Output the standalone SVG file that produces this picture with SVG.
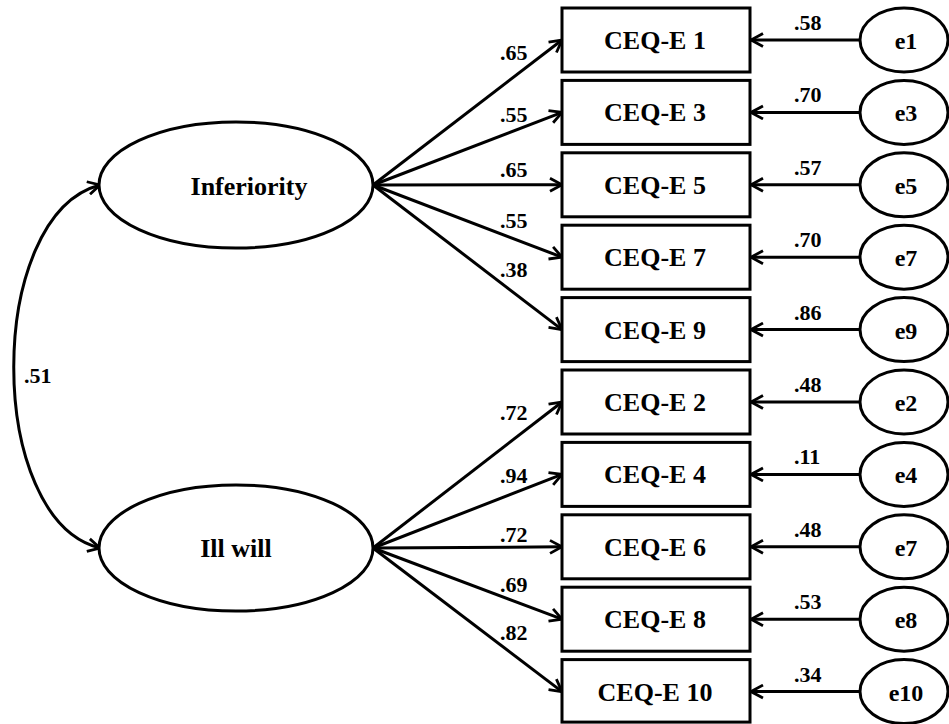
<svg xmlns="http://www.w3.org/2000/svg" width="949" height="724" viewBox="0 0 949 724">
<style>
.n{fill:#fff;stroke:#000;stroke-width:3}
.c{fill:none;stroke:#000;stroke-width:3}
text{font-family:"Liberation Serif","Times New Roman",serif;font-weight:bold;fill:#000}
.lat{font-size:26px;text-anchor:middle}
.obs{font-size:26px;text-anchor:middle}
.err{font-size:24px;text-anchor:middle}
.co{font-size:22px}
</style>
<defs>
<marker id="ah" viewBox="0 0 16 16" refX="15" refY="8" markerWidth="16" markerHeight="16" markerUnits="userSpaceOnUse" orient="auto-start-reverse">
<path d="M3,1.5 L15,8 L3,14.5" fill="none" stroke="#000" stroke-width="2.8"/>
</marker>
</defs>
<rect width="949" height="724" fill="#fff"/>
<g id="connectors">
<path class="c" d="M100,185 C-15,215 -15,520 100,548" marker-start="url(#ah)" marker-end="url(#ah)"/>
<line class="c" x1="373" y1="185" x2="562" y2="40" marker-end="url(#ah)"/>
<line class="c" x1="373" y1="185" x2="562" y2="112.4" marker-end="url(#ah)"/>
<line class="c" x1="373" y1="185" x2="562" y2="184.8" marker-end="url(#ah)"/>
<line class="c" x1="373" y1="185" x2="562" y2="257.2" marker-end="url(#ah)"/>
<line class="c" x1="373" y1="185" x2="562" y2="329.6" marker-end="url(#ah)"/>
<line class="c" x1="373" y1="548" x2="562" y2="402" marker-end="url(#ah)"/>
<line class="c" x1="373" y1="548" x2="562" y2="474.4" marker-end="url(#ah)"/>
<line class="c" x1="373" y1="548" x2="562" y2="546.8" marker-end="url(#ah)"/>
<line class="c" x1="373" y1="548" x2="562" y2="619.2" marker-end="url(#ah)"/>
<line class="c" x1="373" y1="548" x2="562" y2="691.6" marker-end="url(#ah)"/>
<line class="c" x1="860" y1="40" x2="751" y2="40" marker-end="url(#ah)"/>
<line class="c" x1="860" y1="112.4" x2="751" y2="112.4" marker-end="url(#ah)"/>
<line class="c" x1="860" y1="184.8" x2="751" y2="184.8" marker-end="url(#ah)"/>
<line class="c" x1="860" y1="257.2" x2="751" y2="257.2" marker-end="url(#ah)"/>
<line class="c" x1="860" y1="329.6" x2="751" y2="329.6" marker-end="url(#ah)"/>
<line class="c" x1="860" y1="402" x2="751" y2="402" marker-end="url(#ah)"/>
<line class="c" x1="860" y1="474.4" x2="751" y2="474.4" marker-end="url(#ah)"/>
<line class="c" x1="860" y1="546.8" x2="751" y2="546.8" marker-end="url(#ah)"/>
<line class="c" x1="860" y1="619.2" x2="751" y2="619.2" marker-end="url(#ah)"/>
<line class="c" x1="860" y1="691.6" x2="751" y2="691.6" marker-end="url(#ah)"/>
<text class="co" x="24" y="383">.51</text>
<text class="co" x="500" y="60">.65</text>
<text class="co" x="500" y="122">.55</text>
<text class="co" x="500" y="177">.65</text>
<text class="co" x="500" y="228">.55</text>
<text class="co" x="500" y="277">.38</text>
<text class="co" x="500" y="420">.72</text>
<text class="co" x="500" y="483">.94</text>
<text class="co" x="500" y="542">.72</text>
<text class="co" x="500" y="592">.69</text>
<text class="co" x="500" y="640">.82</text>
<text class="co" x="794" y="30">.58</text>
<text class="co" x="794" y="102.4">.70</text>
<text class="co" x="794" y="174.8">.57</text>
<text class="co" x="794" y="247.2">.70</text>
<text class="co" x="794" y="319.6">.86</text>
<text class="co" x="794" y="392">.48</text>
<text class="co" x="794" y="464.4">.11</text>
<text class="co" x="794" y="536.8">.48</text>
<text class="co" x="794" y="609.2">.53</text>
<text class="co" x="794" y="681.6">.34</text>
</g>
<g id="inferiority"><ellipse class="n" cx="236" cy="185" rx="137" ry="63"/><text class="lat" x="249" y="195">Inferiority</text></g>
<g id="illwill"><ellipse class="n" cx="236" cy="548" rx="137" ry="63"/><text class="lat" x="236" y="557">Ill will</text></g>
<g id="ceq1"><rect class="n" x="562" y="8" width="188" height="64"/><text class="obs" x="655" y="49">CEQ-E 1</text></g>
<g id="ceq3"><rect class="n" x="562" y="80.4" width="188" height="64"/><text class="obs" x="655" y="121.4">CEQ-E 3</text></g>
<g id="ceq5"><rect class="n" x="562" y="152.8" width="188" height="64"/><text class="obs" x="655" y="193.8">CEQ-E 5</text></g>
<g id="ceq7"><rect class="n" x="562" y="225.2" width="188" height="64"/><text class="obs" x="655" y="266.2">CEQ-E 7</text></g>
<g id="ceq9"><rect class="n" x="562" y="297.6" width="188" height="64"/><text class="obs" x="655" y="338.6">CEQ-E 9</text></g>
<g id="ceq2"><rect class="n" x="562" y="370" width="188" height="64"/><text class="obs" x="655" y="411">CEQ-E 2</text></g>
<g id="ceq4"><rect class="n" x="562" y="442.4" width="188" height="64"/><text class="obs" x="655" y="483.4">CEQ-E 4</text></g>
<g id="ceq6"><rect class="n" x="562" y="514.8" width="188" height="64"/><text class="obs" x="655" y="555.8">CEQ-E 6</text></g>
<g id="ceq8"><rect class="n" x="562" y="587.2" width="188" height="64"/><text class="obs" x="655" y="628.2">CEQ-E 8</text></g>
<g id="ceq10"><rect class="n" x="562" y="659.6" width="188" height="62.5"/><text class="obs" x="655" y="700.6">CEQ-E 10</text></g>
<g id="e1"><ellipse class="n" cx="904" cy="40" rx="44" ry="32"/><text class="err" x="906" y="49">e1</text></g>
<g id="e3"><ellipse class="n" cx="904" cy="112.4" rx="44" ry="32"/><text class="err" x="906" y="121.4">e3</text></g>
<g id="e5"><ellipse class="n" cx="904" cy="184.8" rx="44" ry="32"/><text class="err" x="906" y="193.8">e5</text></g>
<g id="e7a"><ellipse class="n" cx="904" cy="257.2" rx="44" ry="32"/><text class="err" x="906" y="266.2">e7</text></g>
<g id="e9"><ellipse class="n" cx="904" cy="329.6" rx="44" ry="32"/><text class="err" x="906" y="338.6">e9</text></g>
<g id="e2"><ellipse class="n" cx="904" cy="402" rx="44" ry="32"/><text class="err" x="906" y="411">e2</text></g>
<g id="e4"><ellipse class="n" cx="904" cy="474.4" rx="44" ry="32"/><text class="err" x="906" y="483.4">e4</text></g>
<g id="e7b"><ellipse class="n" cx="904" cy="546.8" rx="44" ry="32"/><text class="err" x="906" y="555.8">e7</text></g>
<g id="e8"><ellipse class="n" cx="904" cy="619.2" rx="44" ry="32"/><text class="err" x="906" y="628.2">e8</text></g>
<g id="e10"><ellipse class="n" cx="904" cy="691.6" rx="44" ry="32"/><text class="err" x="906" y="700.6">e10</text></g>
</svg>
